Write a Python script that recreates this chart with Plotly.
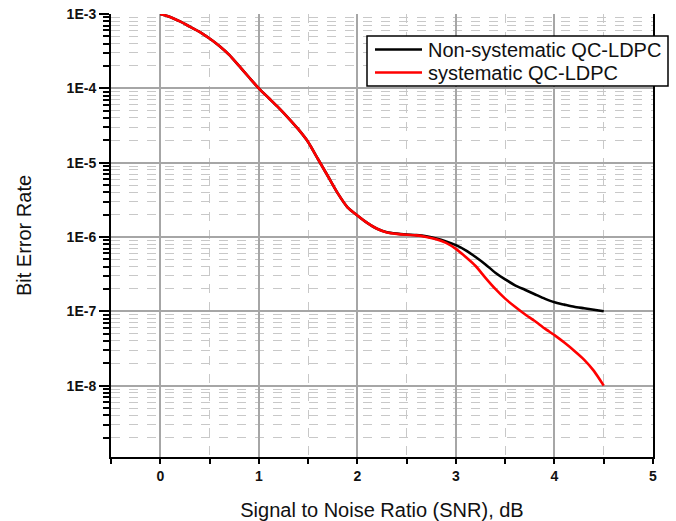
import plotly.graph_objects as go

# ---- data ----
snr_db = [0.0, 0.1, 0.2, 0.3, 0.4, 0.5, 0.6, 0.7, 0.8, 0.9,
          1.0, 1.1, 1.2, 1.3, 1.4, 1.5, 1.6, 1.7, 1.8, 1.9,
          2.0, 2.1, 2.2, 2.3, 2.4, 2.5, 2.6, 2.7, 2.8, 2.9,
          3.0, 3.1, 3.2, 3.3, 3.4, 3.5, 3.6, 3.7, 3.8, 3.9,
          4.0, 4.1, 4.2, 4.3, 4.4, 4.5]

ber_systematic = [1.0e-3, 9.12e-4, 7.94e-4, 6.76e-4, 5.75e-4, 4.68e-4, 3.72e-4, 2.82e-4, 2.00e-4, 1.41e-4,
                  1.0e-4, 7.41e-5, 5.50e-5, 3.98e-5, 2.82e-5, 1.90e-5, 1.12e-5, 6.61e-6, 3.89e-6, 2.51e-6,
                  1.95e-6, 1.55e-6, 1.29e-6, 1.15e-6, 1.10e-6, 1.07e-6, 1.05e-6, 1.00e-6, 9.33e-7, 8.32e-7,
                  6.92e-7, 5.37e-7, 4.07e-7, 2.82e-7, 2.00e-7, 1.48e-7, 1.15e-7, 9.12e-8, 7.41e-8, 5.89e-8,
                  4.79e-8, 3.80e-8, 2.95e-8, 2.24e-8, 1.58e-8, 1.0e-8]

ber_non_systematic = [1.0e-3, 9.12e-4, 7.94e-4, 6.76e-4, 5.75e-4, 4.68e-4, 3.72e-4, 2.82e-4, 2.00e-4, 1.41e-4,
                      1.0e-4, 7.41e-5, 5.50e-5, 3.98e-5, 2.82e-5, 1.90e-5, 1.12e-5, 6.61e-6, 3.89e-6, 2.51e-6,
                      1.95e-6, 1.55e-6, 1.29e-6, 1.16e-6, 1.11e-6, 1.08e-6, 1.06e-6, 1.02e-6, 9.55e-7, 8.71e-7,
                      7.76e-7, 6.61e-7, 5.37e-7, 4.27e-7, 3.31e-7, 2.69e-7, 2.24e-7, 1.95e-7, 1.70e-7, 1.48e-7,
                      1.32e-7, 1.23e-7, 1.15e-7, 1.10e-7, 1.05e-7, 1.0e-7]

series_names = ["Non-systematic QC-LDPC", "systematic QC-LDPC"]
series_colors = ["#000000", "#ff0000"]

x_tick_vals = [0, 1, 2, 3, 4, 5]
y_tick_vals = [1e-3, 1e-4, 1e-5, 1e-6, 1e-7, 1e-8]
y_tick_text = ["1E-3", "1E-4", "1E-5", "1E-6", "1E-7", "1E-8"]

# minor log ticks (2..9 within each decade)
y_minor_vals = []
for e in range(-9, -3):
    for k in range(2, 10):
        y_minor_vals.append(k * 10.0 ** e)

FONT = "Liberation Sans, Arial, sans-serif"
W, H = 676, 521
ML, MR, MT, MB = 111, 23, 14, 64
PW, PH = W - ML - MR, H - MT - MB


def px_x(p):
    return (p - ML) / PW


def px_y(p):
    return (H - MB - p) / PH


fig = go.Figure()
for name, ys, col in zip(series_names, [ber_non_systematic, ber_systematic], series_colors):
    fig.add_trace(go.Scatter(x=snr_db, y=ys, mode="lines", name=name, showlegend=False,
                             line=dict(color=col, width=2.6, shape="spline", smoothing=0.6)))

# legend box drawn by hand (it overhangs the right axis as in the reference)
shapes = [dict(type="rect", xref="paper", yref="paper", layer="above",
               x0=px_x(367), x1=px_x(668), y0=px_y(86), y1=px_y(36),
               fillcolor="white", line=dict(color="#000000", width=1.5))]
annotations = []
legend_rows_px = [49.5, 72.5]
for name, col, ry in zip(series_names, series_colors, legend_rows_px):
    shapes.append(dict(type="line", xref="paper", yref="paper", layer="above",
                       x0=px_x(375), x1=px_x(422), y0=px_y(ry), y1=px_y(ry),
                       line=dict(color=col, width=2.6)))
    annotations.append(dict(xref="paper", yref="paper", x=px_x(426), y=px_y(ry),
                            xanchor="left", yanchor="middle", showarrow=False,
                            text=name, font=dict(size=20, family=FONT, color="#111111")))

fig.update_layout(
    width=W, height=H,
    margin=dict(l=ML, r=MR, t=MT, b=MB),
    paper_bgcolor="white", plot_bgcolor="white",
    font=dict(family=FONT, color="#111111"),
    showlegend=False,
    shapes=shapes, annotations=annotations,
    xaxis=dict(
        range=[-0.5, 5], tickmode="array", tickvals=x_tick_vals, automargin=False,
        showline=True, linecolor="#000000", linewidth=2,
        ticks="outside", ticklen=5, tickwidth=1.5, tickcolor="#000000",
        tickfont=dict(size=14, family=FONT, weight="bold", color="#111111"),
        ticklabelstandoff=0,
        showgrid=True, gridcolor="#a6a6a6", gridwidth=1.5,
        zeroline=False, mirror=False,
        minor=dict(dtick=0.5, tick0=0, showgrid=True, gridcolor="#c8c8c8",
                   griddash="dash", gridwidth=1, ticks="outside",
                   ticklen=5, tickwidth=1.5, tickcolor="#000000"),
        title=dict(text="Signal to Noise Ratio (SNR), dB",
                   font=dict(size=20, family=FONT, color="#111111"),
                   standoff=20),
    ),
    yaxis=dict(
        type="log", range=[-8.96, -3.0], automargin=False,
        tickmode="array", tickvals=y_tick_vals, ticktext=y_tick_text,
        showline=True, linecolor="#000000", linewidth=2, mirror=True,
        ticks="outside", ticklen=10, tickwidth=2, tickcolor="#000000",
        tickfont=dict(size=14, family=FONT, weight="bold", color="#111111"),
        showgrid=True, gridcolor="#a6a6a6", gridwidth=1.5,
        zeroline=False,
        minor=dict(tickmode="array", tickvals=y_minor_vals, showgrid=True,
                   gridcolor="#c8c8c8", griddash="dash", gridwidth=1,
                   ticks="outside", ticklen=6, tickwidth=1.5, tickcolor="#000000"),
        title=dict(text="Bit Error Rate",
                   font=dict(size=20, family=FONT, color="#111111"),
                   standoff=30),
    ),
)

fig.write_html("out.html")
